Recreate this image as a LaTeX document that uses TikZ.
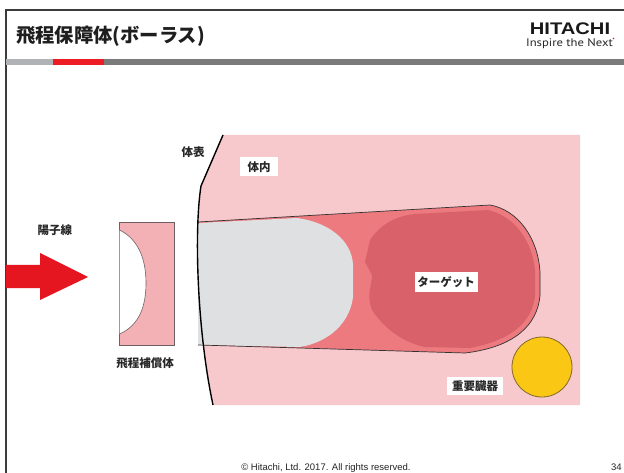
\documentclass[tikz,border=0pt]{standalone}
\usepackage{fontspec}
\setmainfont{Liberation Sans}
\newfontfamily\jp{Noto Sans CJK JP}
\newfontfamily\ptsans{PT Sans}

\definecolor{framegray}{RGB}{60,60,60}
\definecolor{barlight}{RGB}{176,178,181}
\definecolor{barred}{RGB}{237,28,36}
\definecolor{bardark}{RGB}{122,122,122}
\definecolor{bodypink}{RGB}{247,200,204}
\definecolor{bandred}{RGB}{236,122,127}
\definecolor{targetred}{RGB}{217,98,106}
\definecolor{beamgray}{RGB}{222,224,226}
\definecolor{comppink}{RGB}{243,176,181}
\definecolor{compedge}{RGB}{110,95,100}
\definecolor{arrowred}{RGB}{230,22,32}
\definecolor{organyellow}{RGB}{250,200,20}
\definecolor{organedge}{RGB}{130,105,40}
\definecolor{labelink}{RGB}{40,40,40}
\definecolor{titleink}{RGB}{30,30,30}

\begin{document}
\begin{tikzpicture}[x=1pt,y=-1pt,
  tag/.style={font=\jp\bfseries\fontsize{11.5}{12}\selectfont, text=labelink, inner sep=2pt},
  tagbox/.style={tag, fill=white, minimum height=19pt},
  outline/.style={draw=black!80, line width=0.7pt},
  footer/.style={font=\fontsize{9.5}{10}\selectfont, text=black!85, inner sep=0pt}]
\useasboundingbox (0,0) rectangle (624,473);
\fill[white] (0,0) rectangle (624,473);

% slide frame
\draw[framegray, line width=2pt] (6,476) -- (6,10) -- (627,10);

% title and logo
\node[anchor=base west, inner sep=0pt, text=titleink,
      font=\jp\bfseries\fontsize{19.3}{20}\selectfont] (title) at (16,43) {飛程保障体(ボーラス)};
\node[anchor=base, inner sep=0pt, text=black!90,
      font=\bfseries\fontsize{16.8}{17}\selectfont] (logo) at (570,35) {\scalebox{1.2}[1]{HITACHI}};
\node[anchor=base, inner sep=0pt, text=black!85,
      font=\ptsans\fontsize{11}{12}\selectfont] (tagline) at (569.5,46.5) {\scalebox{1.15}[1]{Inspire the Next}};
\fill[barred] (613.5,38.5) circle[radius=0.9pt];

% header bar
\fill[barlight] (6,58.7) rectangle (53,64.7);
\fill[barred] (53,58.7) rectangle (104,64.7);
\fill[bardark] (104,58.7) rectangle (624,64.7);

% body interior
\fill[bodypink] (223,135) -- (580,135) -- (580,405) -- (213,405)
  .. controls (197,330) and (194,230) .. (201,186) -- cycle;

% beam envelope
\fill[bandred] (198,222) -- (490,205) .. controls (518,210) and (538,238) .. (540,272)
  -- (540,296) .. controls (537,325) and (515,347) .. (465,353) -- (300,348) -- (198,345) -- cycle;

% target volume
\fill[targetred] (370,240) .. controls (380,225) and (395,216) .. (415,214) -- (488,210)
  .. controls (514,216) and (532,240) .. (535,270) -- (535,296)
  .. controls (532,322) and (512,340) .. (470,348) -- (425,347)
  .. controls (405,343) and (385,330) .. (372,310)
  .. controls (366,295) and (372,285) .. (372,275) -- (365,262) -- cycle;

% region short of the target
\fill[beamgray] (198,223) -- (297,218) .. controls (328,222) and (352,240) .. (353,265)
  -- (353,297) .. controls (350,322) and (330,342) .. (300,347) -- (198,345) -- cycle;

\draw[outline] (198,222) -- (490,205) .. controls (518,210) and (538,238) .. (540,272)
  -- (540,296) .. controls (537,325) and (515,347) .. (465,353) -- (300,348) -- (198,345);

% critical organ
\filldraw[fill=organyellow, draw=organedge, line width=0.8pt] (542,367) circle[radius=30pt];

% body surface
\draw[black, line width=1.4pt] (223,135) -- (201,186) .. controls (194,230) and (197,330) .. (213,405);

% proton beam arrow
\fill[arrowred] (6,265) -- (40,265) -- (40,253) -- (88,277) -- (40,300) -- (40,288) -- (6,288) -- cycle;

% range compensator
\filldraw[fill=comppink, draw=compedge, line width=0.8pt] (119,222) rectangle (174,345);
\fill[white] (119.5,230) .. controls (140,240) and (146,262) .. (146,283)
  .. controls (146,305) and (140,325) .. (119.5,334) -- cycle;
\draw[compedge, line width=0.6pt] (119.5,230) .. controls (140,240) and (146,262) .. (146,283)
  .. controls (146,305) and (140,325) .. (119.5,334);

% labels
\node[tag] (surface) at (193,152) {体表};
\node[tagbox, minimum width=38pt] (inside) at (259,167) {体内};
\node[tag] (beam) at (55,230) {陽子線};
\node[tagbox, minimum width=63pt] (target) at (446,282) {ターゲット};
\node[tagbox, minimum width=56pt, minimum height=18pt] (organ) at (475,386) {重要臓器};
\node[tag] (bolus) at (145,363) {飛程補償体};

% footer
\node[footer, anchor=base] (copyright) at (326,470) {© Hitachi, Ltd. 2017. All rights reserved.};
\node[footer, anchor=base west] (page) at (611,470) {34};
\end{tikzpicture}
\end{document}
